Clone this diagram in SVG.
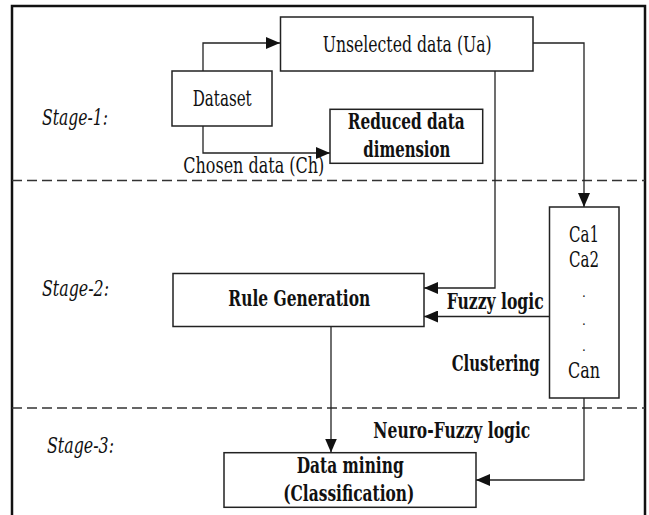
<svg xmlns="http://www.w3.org/2000/svg" width="649" height="515" viewBox="0 0 649 515">
<defs>
<marker id="arr" markerUnits="userSpaceOnUse" markerWidth="15" markerHeight="12" refX="14" refY="6" orient="auto">
<path d="M0,0 L14,6 L0,12 Z" fill="#111"/>
</marker>
<style>
.box{fill:#fff;stroke:#222;stroke-width:1.5}
.ln{fill:none;stroke:#222;stroke-width:1.3;marker-end:url(#arr)}
.dash{fill:none;stroke:#333;stroke-width:1.5;stroke-dasharray:10 5}
text{font-family:'DejaVu Serif','Liberation Serif',serif;font-size:22px;fill:#111}
.b{font-weight:bold}
.i{font-style:italic}
.c{text-anchor:middle}
.dot{font-size:12px}
</style>
</defs>
<rect width="649" height="515" fill="#fff"/>
<path d="M12,520 V6 H645 V520" fill="none" stroke="#111" stroke-width="2.5"/>
<g id="separators">
<line class="dash" x1="12" y1="180.5" x2="645" y2="180.5"/>
<line class="dash" x1="12" y1="408" x2="645" y2="408"/>
</g>
<g id="stage-labels">
<text class="i" x="42" y="125" textLength="66" lengthAdjust="spacingAndGlyphs">Stage-1:</text>
<text class="i" x="42" y="296" textLength="67" lengthAdjust="spacingAndGlyphs">Stage-2:</text>
<text class="i" x="47" y="452.5" textLength="67" lengthAdjust="spacingAndGlyphs">Stage-3:</text>
</g>
<g id="connectors">
<path class="ln" d="M203,71 V43 H280"/>
<path class="ln" d="M203,126 V153 H330"/>
<path class="ln" d="M533,43 H584 V207"/>
<path class="ln" d="M495,71 V288 H424"/>
<path class="ln" d="M549,316.5 H424"/>
<path class="ln" d="M331,327 V452.5"/>
<path class="ln" d="M584,398 V480 H476"/>
<text x="183.3" y="173.3" textLength="141" lengthAdjust="spacingAndGlyphs">Chosen data (Ch)</text>
<text class="b" x="446.7" y="309.3" textLength="97" lengthAdjust="spacingAndGlyphs">Fuzzy logic</text>
<text class="b" transform="translate(451.7,370.7) scale(0.6,1)" x="0" y="0" textLength="146.7" lengthAdjust="spacingAndGlyphs">Clustering</text>
<text class="b" x="373.3" y="438.3" textLength="157" lengthAdjust="spacingAndGlyphs">Neuro-Fuzzy logic</text>
</g>
<g id="unselected">
<rect class="box" x="280.5" y="17" width="252.5" height="54"/>
<text x="322.7" y="51.7" textLength="169" lengthAdjust="spacingAndGlyphs">Unselected data (Ua)</text>
</g>
<g id="dataset">
<rect class="box" x="172" y="71" width="100" height="55"/>
<text x="192.7" y="105.7" textLength="59" lengthAdjust="spacingAndGlyphs">Dataset</text>
</g>
<g id="reduced">
<rect class="box" x="330" y="109.3" width="152.7" height="54"/>
<text class="b" x="347.7" y="129.3" textLength="117" lengthAdjust="spacingAndGlyphs">Reduced data</text>
<text class="b" x="363.3" y="156.7" textLength="87" lengthAdjust="spacingAndGlyphs">dimension</text>
</g>
<g id="clusters">
<rect class="box" x="549.5" y="207" width="69.5" height="191"/>
<text class="c" x="584" y="241.7" textLength="30" lengthAdjust="spacingAndGlyphs">Ca1</text>
<text class="c" x="584" y="266.7" textLength="30" lengthAdjust="spacingAndGlyphs">Ca2</text>
<text class="c dot" x="584" y="297">.</text>
<text class="c dot" x="584" y="325">.</text>
<text class="c dot" x="584" y="351">.</text>
<text class="c" x="584" y="378" textLength="32" lengthAdjust="spacingAndGlyphs">Can</text>
</g>
<g id="rule-generation">
<rect class="box" x="173" y="273.5" width="251" height="53"/>
<text class="b" x="228.3" y="306" textLength="142" lengthAdjust="spacingAndGlyphs">Rule Generation</text>
</g>
<g id="data-mining">
<rect class="box" x="224" y="452.7" width="252" height="54.6"/>
<text class="b" x="296.7" y="473.3" textLength="107" lengthAdjust="spacingAndGlyphs">Data mining</text>
<text class="b" x="283.3" y="500.7" textLength="131" lengthAdjust="spacingAndGlyphs">(Classification)</text>
</g>
</svg>
